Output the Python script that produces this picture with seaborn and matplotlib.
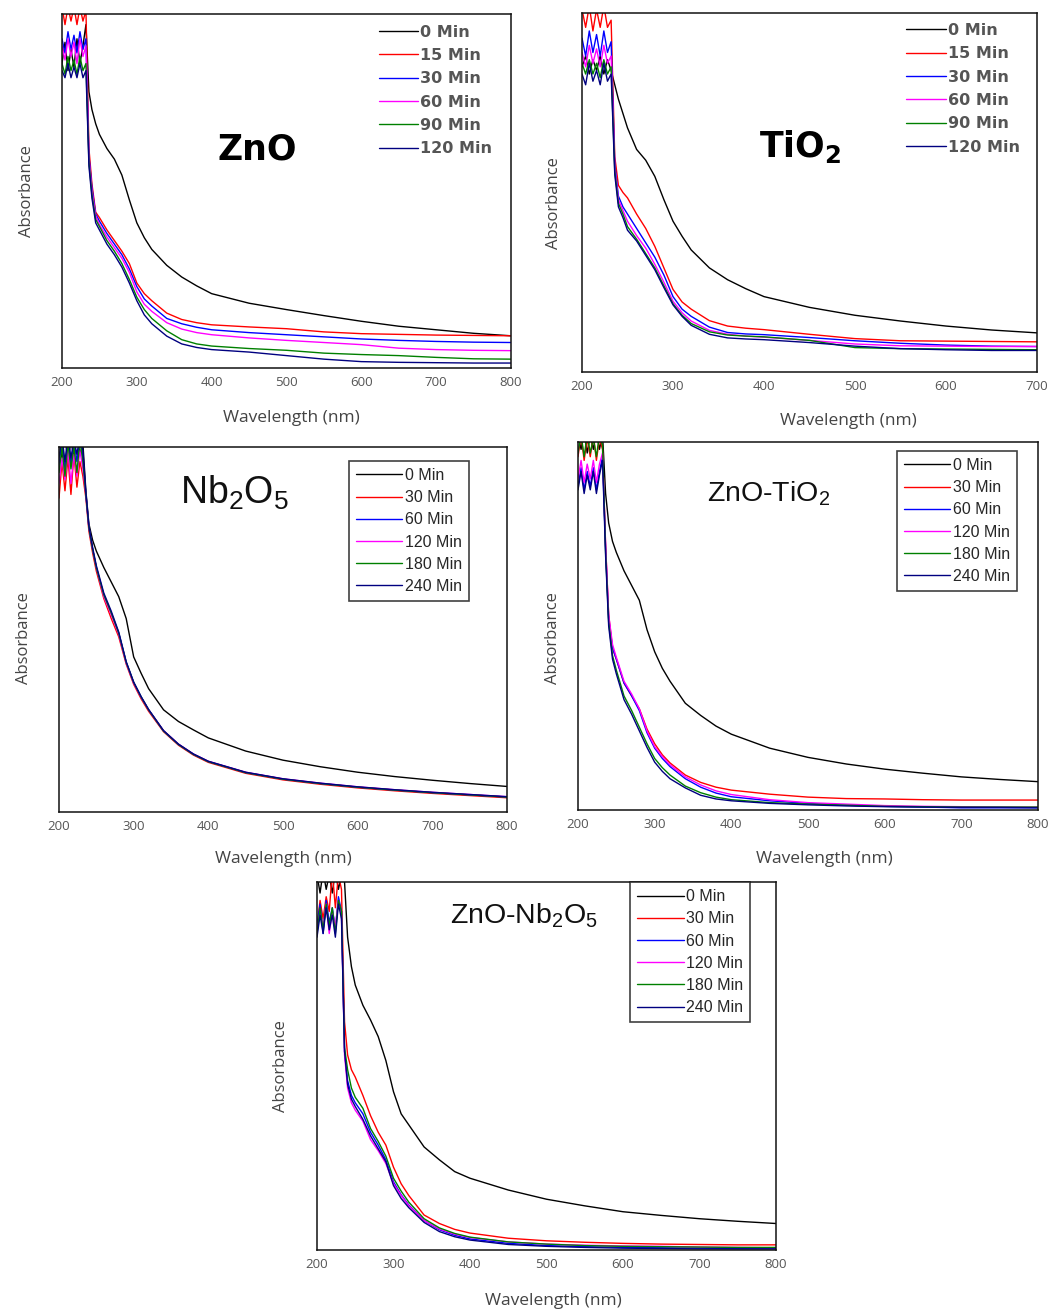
import numpy as np
import pandas as pd
import matplotlib
matplotlib.use("Agg")
import matplotlib.pyplot as plt
import seaborn as sns

# wavelength grids (nm)
wl_800 = [200, 204, 208, 212, 216, 220, 224, 228, 232, 236, 240, 245, 250, 260, 270, 280,
          290, 300, 310, 320, 340, 360, 380, 400, 450, 500, 550, 600, 650, 700, 750, 800]
wl_700 = wl_800[:-2]

colors = ["#000000", "#ff0000", "#0000ff", "#ff00ff", "#008000", "#000080"]

# --- ZnO ---
zno_times = ["0 Min", "15 Min", "30 Min", "60 Min", "90 Min", "120 Min"]
zno_curves = [
    [0.86, 0.92, 0.84, 0.90, 0.85, 0.93, 0.86, 0.91, 0.97, 0.78, 0.73, 0.69, 0.66, 0.62, 0.59, 0.545,
     0.475, 0.41, 0.368, 0.335, 0.29, 0.257, 0.232, 0.21, 0.183, 0.165, 0.148, 0.132, 0.118, 0.108, 0.098, 0.091],
    [1.02, 0.97, 1.02, 0.98, 1.02, 0.97, 1.02, 0.98, 1.01, 0.62, 0.52, 0.44, 0.425, 0.39, 0.36, 0.33,
     0.295, 0.24, 0.21, 0.19, 0.155, 0.137, 0.128, 0.122, 0.116, 0.111, 0.102, 0.097, 0.095, 0.093, 0.092, 0.091],
    [0.93, 0.89, 0.95, 0.90, 0.94, 0.89, 0.95, 0.90, 0.93, 0.60, 0.51, 0.435, 0.415, 0.38, 0.35, 0.32,
     0.28, 0.23, 0.195, 0.175, 0.14, 0.125, 0.115, 0.108, 0.100, 0.094, 0.088, 0.082, 0.078, 0.075, 0.073, 0.072],
    [0.91, 0.87, 0.93, 0.88, 0.92, 0.86, 0.93, 0.88, 0.91, 0.59, 0.50, 0.43, 0.405, 0.37, 0.34, 0.31,
     0.27, 0.215, 0.18, 0.16, 0.128, 0.11, 0.10, 0.094, 0.085, 0.078, 0.072, 0.066, 0.056, 0.052, 0.050, 0.049],
    [0.86, 0.83, 0.88, 0.84, 0.87, 0.83, 0.88, 0.84, 0.86, 0.58, 0.49, 0.42, 0.40, 0.36, 0.33, 0.295,
     0.25, 0.20, 0.165, 0.14, 0.105, 0.08, 0.068, 0.062, 0.055, 0.050, 0.042, 0.038, 0.035, 0.030, 0.026, 0.025],
    [0.84, 0.82, 0.86, 0.82, 0.85, 0.82, 0.86, 0.82, 0.84, 0.57, 0.48, 0.41, 0.39, 0.35, 0.32, 0.285,
     0.24, 0.19, 0.15, 0.125, 0.09, 0.068, 0.058, 0.052, 0.045, 0.035, 0.025, 0.018, 0.016, 0.015, 0.014, 0.014],
]

# --- TiO2 ---
tio2_times = ["0 Min", "15 Min", "30 Min", "60 Min", "90 Min", "120 Min"]
tio2_curves = [
    [0.85, 0.88, 0.83, 0.87, 0.84, 0.88, 0.83, 0.87, 0.84, 0.80, 0.76, 0.72, 0.68, 0.62, 0.59, 0.545,
     0.48, 0.42, 0.378, 0.34, 0.29, 0.257, 0.232, 0.21, 0.18, 0.158, 0.142, 0.128, 0.117, 0.109],
    [1.01, 0.96, 1.02, 0.95, 1.01, 0.96, 1.02, 0.96, 0.98, 0.60, 0.52, 0.50, 0.485, 0.44, 0.40, 0.35,
     0.29, 0.23, 0.195, 0.175, 0.143, 0.128, 0.122, 0.118, 0.105, 0.093, 0.087, 0.086, 0.085, 0.084],
    [0.93, 0.88, 0.95, 0.89, 0.94, 0.88, 0.95, 0.89, 0.92, 0.58, 0.49, 0.46, 0.44, 0.40, 0.36, 0.32,
     0.27, 0.21, 0.175, 0.155, 0.125, 0.11, 0.106, 0.104, 0.096, 0.087, 0.080, 0.075, 0.072, 0.071],
    [0.89, 0.85, 0.91, 0.86, 0.90, 0.85, 0.91, 0.86, 0.88, 0.57, 0.48, 0.45, 0.42, 0.38, 0.345, 0.30,
     0.25, 0.197, 0.165, 0.142, 0.116, 0.105, 0.10, 0.097, 0.088, 0.078, 0.073, 0.072, 0.071, 0.071],
    [0.86, 0.83, 0.87, 0.83, 0.86, 0.82, 0.87, 0.83, 0.85, 0.56, 0.47, 0.44, 0.405, 0.37, 0.33, 0.29,
     0.24, 0.19, 0.158, 0.135, 0.112, 0.103, 0.10, 0.098, 0.088, 0.068, 0.065, 0.064, 0.063, 0.062],
    [0.83, 0.80, 0.86, 0.81, 0.84, 0.80, 0.86, 0.81, 0.83, 0.55, 0.46, 0.43, 0.395, 0.365, 0.325, 0.285,
     0.235, 0.187, 0.155, 0.13, 0.105, 0.095, 0.092, 0.09, 0.082, 0.072, 0.065, 0.062, 0.060, 0.060],
]

# --- Nb2O5 ---
nb_times = ["0 Min", "30 Min", "60 Min", "120 Min", "180 Min", "240 Min"]
nb_curves = [
    [1.02, 0.97, 1.03, 0.96, 1.02, 0.97, 1.03, 0.98, 1.01, 0.88, 0.79, 0.745, 0.715, 0.67, 0.63, 0.59,
     0.53, 0.425, 0.38, 0.338, 0.28, 0.248, 0.225, 0.203, 0.167, 0.142, 0.124, 0.109, 0.097, 0.087, 0.078, 0.070],
    [0.86, 0.96, 0.88, 0.97, 0.87, 0.98, 0.89, 0.96, 0.92, 0.86, 0.77, 0.71, 0.66, 0.585, 0.53, 0.48,
     0.405, 0.35, 0.31, 0.276, 0.22, 0.183, 0.156, 0.136, 0.106, 0.088, 0.076, 0.066, 0.058, 0.051, 0.045, 0.039],
    [0.95, 1.02, 0.94, 1.03, 0.95, 1.02, 0.96, 1.03, 0.97, 0.87, 0.78, 0.72, 0.67, 0.595, 0.545, 0.49,
     0.41, 0.355, 0.315, 0.28, 0.222, 0.185, 0.158, 0.138, 0.108, 0.09, 0.078, 0.068, 0.060, 0.053, 0.047, 0.041],
    [0.90, 0.97, 0.91, 0.99, 0.90, 0.98, 0.92, 0.99, 0.94, 0.87, 0.78, 0.72, 0.67, 0.59, 0.54, 0.487,
     0.408, 0.353, 0.314, 0.28, 0.223, 0.186, 0.159, 0.139, 0.109, 0.091, 0.079, 0.069, 0.061, 0.054, 0.048, 0.042],
    [0.93, 1.00, 0.92, 1.01, 0.94, 1.00, 0.93, 1.02, 0.96, 0.87, 0.78, 0.72, 0.67, 0.595, 0.545, 0.49,
     0.41, 0.355, 0.315, 0.28, 0.222, 0.185, 0.158, 0.138, 0.108, 0.09, 0.078, 0.068, 0.060, 0.053, 0.047, 0.041],
    [0.97, 1.03, 0.96, 1.03, 0.97, 1.02, 0.98, 1.03, 0.99, 0.875, 0.785, 0.725, 0.675, 0.60, 0.55, 0.493,
     0.412, 0.356, 0.316, 0.281, 0.223, 0.186, 0.159, 0.139, 0.109, 0.091, 0.079, 0.069, 0.061, 0.054, 0.048, 0.042],
]

# --- ZnO-TiO2 ---
zt_times = ["0 Min", "30 Min", "60 Min", "120 Min", "180 Min", "240 Min"]
zt_curves = [
    [1.02, 0.98, 1.03, 0.97, 1.02, 0.98, 1.03, 0.98, 1.02, 0.86, 0.78, 0.73, 0.70, 0.65, 0.61, 0.57,
     0.49, 0.43, 0.385, 0.35, 0.29, 0.257, 0.228, 0.206, 0.168, 0.143, 0.125, 0.111, 0.10, 0.09, 0.083, 0.077],
    [0.96, 1.02, 0.95, 1.01, 0.96, 1.02, 0.95, 1.01, 0.98, 0.72, 0.53, 0.44, 0.41, 0.345, 0.31, 0.275,
     0.22, 0.18, 0.15, 0.128, 0.095, 0.075, 0.062, 0.054, 0.043, 0.035, 0.031, 0.030, 0.028, 0.027, 0.027, 0.027],
    [0.88, 0.93, 0.87, 0.92, 0.88, 0.93, 0.87, 0.92, 0.96, 0.71, 0.52, 0.44, 0.41, 0.345, 0.31, 0.27,
     0.21, 0.168, 0.14, 0.118, 0.085, 0.062, 0.046, 0.036, 0.025, 0.018, 0.013, 0.010, 0.008, 0.006, 0.006, 0.006],
    [0.90, 0.95, 0.89, 0.94, 0.90, 0.95, 0.89, 0.94, 0.97, 0.72, 0.53, 0.45, 0.415, 0.35, 0.315, 0.275,
     0.215, 0.172, 0.145, 0.123, 0.09, 0.068, 0.052, 0.042, 0.028, 0.020, 0.016, 0.012, 0.010, 0.009, 0.008, 0.008],
    [0.97, 1.02, 0.96, 1.02, 0.97, 1.01, 0.96, 1.02, 0.99, 0.70, 0.51, 0.42, 0.38, 0.31, 0.27, 0.225,
     0.18, 0.14, 0.115, 0.095, 0.065, 0.047, 0.035, 0.028, 0.020, 0.016, 0.013, 0.010, 0.009, 0.008, 0.008, 0.008],
    [0.87, 0.92, 0.86, 0.91, 0.87, 0.92, 0.86, 0.91, 0.95, 0.69, 0.50, 0.41, 0.37, 0.30, 0.26, 0.215,
     0.17, 0.13, 0.105, 0.085, 0.06, 0.04, 0.03, 0.025, 0.018, 0.014, 0.011, 0.009, 0.008, 0.007, 0.007, 0.006],
]

# --- ZnO-Nb2O5 ---
zn_times = ["0 Min", "30 Min", "60 Min", "120 Min", "180 Min", "240 Min"]
zn_curves = [
    [1.02, 0.97, 1.03, 0.98, 1.02, 0.97, 1.03, 0.98, 1.02, 1.00, 0.85, 0.77, 0.72, 0.665, 0.625, 0.58,
     0.515, 0.43, 0.37, 0.34, 0.28, 0.245, 0.213, 0.195, 0.163, 0.138, 0.12, 0.104, 0.094, 0.085, 0.078, 0.072],
    [0.88, 0.95, 0.90, 0.96, 0.92, 1.03, 0.93, 1.02, 0.98, 0.62, 0.53, 0.49, 0.47, 0.42, 0.365, 0.32,
     0.285, 0.225, 0.18, 0.148, 0.095, 0.072, 0.056, 0.046, 0.032, 0.025, 0.021, 0.018, 0.016, 0.015, 0.014, 0.014],
    [0.88, 0.94, 0.86, 0.95, 0.89, 0.93, 0.87, 0.96, 0.92, 0.54, 0.46, 0.42, 0.40, 0.37, 0.32, 0.285,
     0.245, 0.185, 0.15, 0.122, 0.08, 0.055, 0.04, 0.03, 0.018, 0.012, 0.009, 0.007, 0.006, 0.005, 0.004, 0.004],
    [0.87, 0.92, 0.88, 0.94, 0.86, 0.92, 0.88, 0.95, 0.91, 0.53, 0.44, 0.40, 0.38, 0.35, 0.30, 0.27,
     0.235, 0.18, 0.148, 0.12, 0.08, 0.057, 0.043, 0.034, 0.022, 0.016, 0.013, 0.011, 0.010, 0.008, 0.007, 0.006],
    [0.86, 0.93, 0.87, 0.94, 0.88, 0.93, 0.86, 0.95, 0.92, 0.55, 0.49, 0.44, 0.415, 0.385, 0.33, 0.295,
     0.255, 0.195, 0.16, 0.13, 0.085, 0.06, 0.045, 0.035, 0.022, 0.016, 0.012, 0.010, 0.009, 0.008, 0.007, 0.007],
    [0.85, 0.91, 0.86, 0.93, 0.87, 0.91, 0.85, 0.94, 0.90, 0.54, 0.45, 0.41, 0.39, 0.355, 0.31, 0.275,
     0.24, 0.175, 0.14, 0.115, 0.075, 0.05, 0.036, 0.027, 0.015, 0.010, 0.007, 0.005, 0.004, 0.003, 0.003, 0.003],
]

sns.set_style("white")
plt.rcParams["font.family"] = ["Liberation Sans", "DejaVu Sans"]

W, H = 1051, 1312
fig = plt.figure(figsize=(W / 100, H / 100), dpi=100)

label_font = ["Open Sans", "DejaVu Sans"]


def add_panel(box):
    # box: pixel left, top, right, bottom
    l, t, r, b = box
    return fig.add_axes([l / W, 1 - b / H, (r - l) / W, (b - t) / H])


def draw_panel(ax, wl, times, curves, xmax, title, title_pos, title_kw,
               leg_pos, framed, ylab_x, ylab_y, xlab_x, xlab_y):
    rows = []
    for t, vals in zip(times, curves):
        for w, v in zip(wl, vals):
            rows.append((w, v, t))
    df = pd.DataFrame(rows, columns=["wl", "absorb", "time"])
    sns.lineplot(data=df, x="wl", y="absorb", hue="time", hue_order=times,
                 palette=colors, linewidth=1.0, errorbar=None, ax=ax)

    ax.set_xlim(200, xmax)
    ax.set_ylim(0, 1)
    ax.set_xticks(np.arange(200, xmax + 1, 100))
    ax.set_xticks(np.arange(250, xmax, 100), minor=True)
    ax.set_yticks([])
    ax.tick_params(axis="x", which="major", direction="out", length=4, width=1,
                   labelsize=9.5, labelcolor="#555555", pad=1.5)
    ax.tick_params(axis="x", which="minor", direction="out", length=2.5, width=1)
    for lbl in ax.get_xticklabels():
        lbl.set_family(label_font)
    for s in ax.spines.values():
        s.set_color("#111111")
        s.set_linewidth(1.1)

    ax.set_xlabel("Wavelength (nm)", fontsize=12.5, color="#444444",
                  family=label_font, va="top")
    ax.xaxis.set_label_coords(xlab_x, xlab_y)
    ax.set_ylabel("Absorbance", fontsize=12, color="#444444", family=label_font)
    ax.yaxis.set_label_coords(ylab_x, ylab_y)

    ax.text(title_pos[0], title_pos[1], title, transform=ax.transAxes,
            ha="left", va="baseline", **title_kw)

    handles, labels = ax.get_legend_handles_labels()
    if framed:
        leg = ax.legend(handles, labels, loc="upper left", bbox_to_anchor=leg_pos,
                        frameon=True, fancybox=False, borderaxespad=0,
                        handlelength=2.9, handletextpad=0.15, labelspacing=0.45,
                        borderpad=0.45, prop={"family": ["Liberation Sans"], "size": 11.5})
        leg.get_frame().set_edgecolor("#111111")
        leg.get_frame().set_linewidth(1.2)
    else:
        leg = ax.legend(handles, labels, loc="upper left", bbox_to_anchor=leg_pos,
                        frameon=False, borderaxespad=0, borderpad=0,
                        handlelength=2.5, handletextpad=0.12, labelspacing=0.52,
                        prop={"family": ["DejaVu Sans"], "size": 11.5, "weight": "bold"})
        for txt in leg.get_texts():
            txt.set_color("#555555")


bold_title = dict(fontsize=25, fontweight="bold", color="black", family=["DejaVu Sans"])
thin_title = dict(color="#111111", family=["Liberation Sans"])

ax1 = add_panel((62, 14, 511, 368))
draw_panel(ax1, wl_800, zno_times, zno_curves, 800, "ZnO", (0.347, 0.59), bold_title,
           (0.705, 0.97), False, -0.06, 0.5, 0.51, -0.12)

ax2 = add_panel((582, 13, 1037, 372))
draw_panel(ax2, wl_700, tio2_times, tio2_curves, 700, r"TiO$_\mathregular{2}$", (0.39, 0.60), bold_title,
           (0.712, 0.972), False, -0.045, 0.47, 0.585, -0.113)

ax3 = add_panel((59, 447, 507, 812))
draw_panel(ax3, wl_800, nb_times, nb_curves, 800, r"Nb$_\mathregular{2}$O$_\mathregular{5}$", (0.27, 0.845),
           dict(thin_title, fontsize=27), (0.647, 0.962), True, -0.06, 0.477, 0.5, -0.107)

ax4 = add_panel((578, 442, 1038, 810))
draw_panel(ax4, wl_800, zt_times, zt_curves, 800, r"ZnO-TiO$_\mathregular{2}$", (0.28, 0.84),
           dict(thin_title, fontsize=20.5), (0.693, 0.976), True, -0.036, 0.467, 0.535, -0.111)

ax5 = add_panel((317, 882, 776, 1250))
draw_panel(ax5, wl_800, zn_times, zn_curves, 800, r"ZnO-Nb$_\mathregular{2}$O$_\mathregular{5}$", (0.29, 0.887),
           dict(thin_title, fontsize=20.5), (0.682, 1.0), True, -0.06, 0.5, 0.514, -0.117)

fig.savefig("out.png", dpi=100, facecolor="white")
